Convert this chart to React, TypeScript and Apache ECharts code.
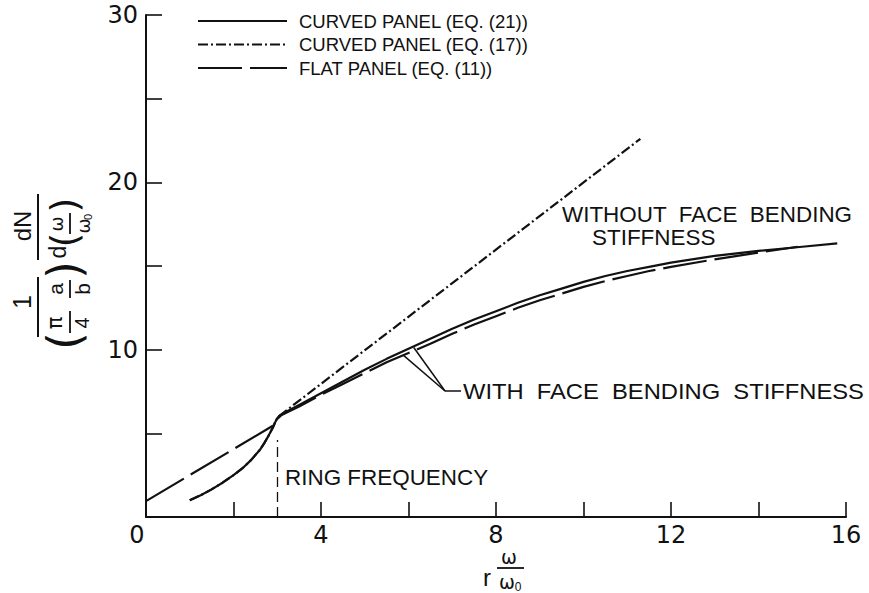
import React, { useEffect, useRef } from "react";
import * as echarts from "echarts";

// Curved panel, Eq. (21)
const eq21X = [1.0, 1.25, 1.5, 1.75, 2.0, 2.2, 2.4, 2.6, 2.7, 2.8, 2.9, 2.95, 3.0, 3.05, 3.25, 3.5, 4.0, 4.5, 5.0, 5.5, 6.0, 6.5, 7.0, 7.5, 8.0, 8.5, 9.0, 9.5, 10.0, 10.5, 11.0, 11.5, 12.0, 13.0, 14.0, 15.0, 15.8];
const eq21Y = [1.0, 1.3, 1.65, 2.05, 2.5, 2.9, 3.4, 4.0, 4.4, 4.85, 5.35, 5.65, 5.9, 6.05, 6.35, 6.7, 7.4, 8.1, 8.8, 9.45, 10.05, 10.65, 11.25, 11.8, 12.3, 12.8, 13.25, 13.65, 14.05, 14.4, 14.7, 14.95, 15.2, 15.6, 15.9, 16.15, 16.35];

// Curved panel, Eq. (17)
const eq17X = [1.0, 1.25, 1.5, 1.75, 2.0, 2.2, 2.4, 2.6, 2.7, 2.8, 2.9, 2.95, 3.0, 3.05, 11.3];
const eq17Y = [1.0, 1.3, 1.65, 2.05, 2.5, 2.9, 3.4, 4.0, 4.4, 4.85, 5.35, 5.65, 5.9, 6.05, 22.6];

// Flat panel, Eq. (11)
const flatX = [0, 2.9, 3.0, 3.1, 3.5, 4.0, 4.5, 5.0, 5.5, 6.0, 6.5, 7.0, 7.5, 8.0, 8.5, 9.0, 9.5, 10.0, 10.5, 11.0, 11.5, 12.0, 13.0, 14.0, 14.9];
const flatY = [0.95, 5.45, 5.85, 6.1, 6.6, 7.3, 7.95, 8.6, 9.25, 9.8, 10.35, 10.95, 11.5, 12.0, 12.5, 12.95, 13.35, 13.75, 14.1, 14.4, 14.7, 14.95, 15.4, 15.8, 16.15];

const seriesNames = ["CURVED PANEL (EQ. (21))", "CURVED PANEL (EQ. (17))", "FLAT PANEL (EQ. (11))"];

// Ring frequency marker
const ringFreq = 3;
const ringTop = 4.6;

// Axis ranges and ticks
const xMin = 0, xMax = 16, xStep = 2, xLabelStep = 4;
const yMin = 0, yMax = 30, yStep = 5, yLabelStep = 10;

// Leader anchors for "WITH FACE BENDING STIFFNESS"
const leaderSolid = [6.12, 10.13];
const leaderFlat = [5.88, 9.67];

const INK = "#111";
const SANS = "'Liberation Sans', Arial, sans-serif";
const MATH = "'DejaVu Sans', sans-serif";

const SOLID: any = "solid";
const DASH_DOT = [10, 3, 2, 3];
const LONG_DASH = [44, 8];
const seriesDash = [SOLID, DASH_DOT, LONG_DASH];

const zip = (xs: number[], ys: number[]) => xs.map((x, i) => [x, ys[i]]);

function txt(text: string, x: number, y: number, size: number, opts: any = {}) {
  return {
    type: "text",
    x,
    y,
    scaleX: opts.scaleX ?? 1,
    silent: true,
    style: {
      text,
      font: `${opts.weight ?? "normal"} ${size}px ${opts.family ?? SANS}`,
      fill: INK,
      textAlign: opts.align ?? "left",
      textVerticalAlign: "middle",
    },
  };
}

function seg(x1: number, y1: number, x2: number, y2: number, w = 2, dash?: any) {
  return {
    type: "line",
    silent: true,
    shape: { x1, y1, x2, y2 },
    style: { stroke: INK, lineWidth: w, lineDash: dash && dash !== "solid" ? dash : null },
  };
}

export default function App() {
  const ref = useRef<HTMLDivElement>(null);

  useEffect(() => {
    document.body.style.margin = "0";
    const chart = echarts.init(ref.current!, null, { renderer: "svg" });

    const lineBase = { type: "line", showSymbol: false, symbol: "none", smooth: false, z: 3 };
    const datasets = [zip(eq21X, eq21Y), zip(eq17X, eq17Y), zip(flatX, flatY)];

    chart.setOption({
      animation: false,
      backgroundColor: "#fff",
      grid: { left: 146, right: 23, top: 15, bottom: 76 },
      xAxis: {
        type: "value",
        min: xMin,
        max: xMax,
        interval: xStep,
        axisLine: { lineStyle: { color: INK, width: 2 } },
        axisTick: { inside: true, length: 15, lineStyle: { color: INK, width: 1.6 } },
        splitLine: { show: false },
        axisLabel: {
          margin: 6,
          color: INK,
          fontFamily: MATH,
          fontSize: 24,
          formatter: (v: number) => (v === 0 ? "{z|0}" : v % xLabelStep === 0 ? String(v) : ""),
          rich: { z: { fontFamily: MATH, fontSize: 24, color: INK, padding: [0, 18, 0, 0] } },
        },
      },
      yAxis: {
        type: "value",
        min: yMin,
        max: yMax,
        interval: yStep,
        axisLine: { lineStyle: { color: INK, width: 2 } },
        axisTick: { inside: true, length: 16, lineStyle: { color: INK, width: 1.6 } },
        splitLine: { show: false },
        axisLabel: {
          margin: 8,
          color: INK,
          fontFamily: MATH,
          fontSize: 24,
          formatter: (v: number) => (v !== 0 && v % yLabelStep === 0 ? String(v) : ""),
        },
      },
      series: seriesNames.map((name, i) => ({
        ...lineBase,
        name,
        data: datasets[i],
        lineStyle: { color: INK, width: 2.2, type: seriesDash[i] },
        ...(i === 2
          ? {
              markLine: {
                silent: true,
                symbol: "none",
                label: { show: false },
                lineStyle: { color: INK, width: 1.3, type: [10, 5] },
                data: [[{ coord: [ringFreq, 0] }, { coord: [ringFreq, ringTop] }]],
              },
            }
          : {}),
      })),
    });

    const toPx = (p: number[]) => chart.convertToPixel({ gridIndex: 0 }, p) as number[];
    const pS = toPx(leaderSolid);
    const pF = toPx(leaderFlat);
    const elbow = [445, 391];

    // Key: line sample followed by its series name
    const legendRows = seriesNames.flatMap((name, i) => {
      const y = 21 + i * 23.5;
      return [seg(198, y, 287, y, 2, seriesDash[i]), txt(name, 299, y, 18.5)];
    });

    // y-axis title, laid out horizontally then turned a quarter turn
    const yTitle = {
      type: "group",
      x: 0,
      y: 350,
      rotation: Math.PI / 2,
      children: [
        txt("1", 48, 22, 25, { align: "center" }),
        seg(13, 38, 73, 38),
        txt("(", 9, 64, 46, { align: "center", family: MATH }),
        txt("π", 27, 55, 21, { align: "center", family: MATH }),
        seg(17, 70, 39, 70, 1.8),
        txt("4", 27, 82, 20, { align: "center" }),
        txt("a", 61, 55, 21, { align: "center" }),
        seg(52, 70, 70, 70, 1.8),
        txt("b", 61, 82, 21, { align: "center" }),
        txt(")", 80, 64, 46, { align: "center", family: MATH }),
        txt("dN", 124, 22, 24, { align: "center" }),
        seg(90, 38, 156, 38),
        txt("d", 98, 58, 23, { align: "center" }),
        txt("(", 110, 64, 38, { align: "center", family: MATH }),
        txt("ω", 126, 56, 18, { align: "center", family: MATH }),
        seg(116, 70, 137, 70, 1.8),
        txt("ω", 124, 83, 18, { align: "center", family: MATH }),
        txt("0", 133, 88, 11, { align: "center" }),
        txt(")", 145, 64, 38, { align: "center", family: MATH }),
      ],
    };

    // x-axis title: r · ω/ω0
    const xTitle = {
      type: "group",
      children: [
        txt("r", 487, 577, 24, { align: "center" }),
        txt("ω", 509, 557, 19, { align: "center", family: MATH }),
        seg(497, 568, 524, 568, 1.8),
        txt("ω", 507, 582, 19, { align: "center", family: MATH }),
        txt("0", 518, 587, 12, { align: "center" }),
      ],
    };

    chart.setOption({
      graphic: {
        elements: [
          ...legendRows,
          yTitle,
          xTitle,
          txt("WITHOUT  FACE  BENDING", 562, 215, 22, { scaleX: 1.02 }),
          txt("STIFFNESS", 592, 238, 22, { scaleX: 1.02 }),
          txt("WITH  FACE  BENDING  STIFFNESS", 463, 391, 22, { scaleX: 1.08 }),
          txt("RING FREQUENCY", 285, 478, 22, { scaleX: 1.02 }),
          seg(elbow[0], elbow[1], 461, elbow[1], 1.5),
          seg(elbow[0], elbow[1], pS[0], pS[1], 1.5),
          seg(elbow[0], elbow[1], pF[0], pF[1], 1.5),
        ],
      },
    });

    return () => chart.dispose();
  }, []);

  return <div ref={ref} style={{ position: "fixed", left: 0, top: 0, width: 869, height: 593 }} />;
}
